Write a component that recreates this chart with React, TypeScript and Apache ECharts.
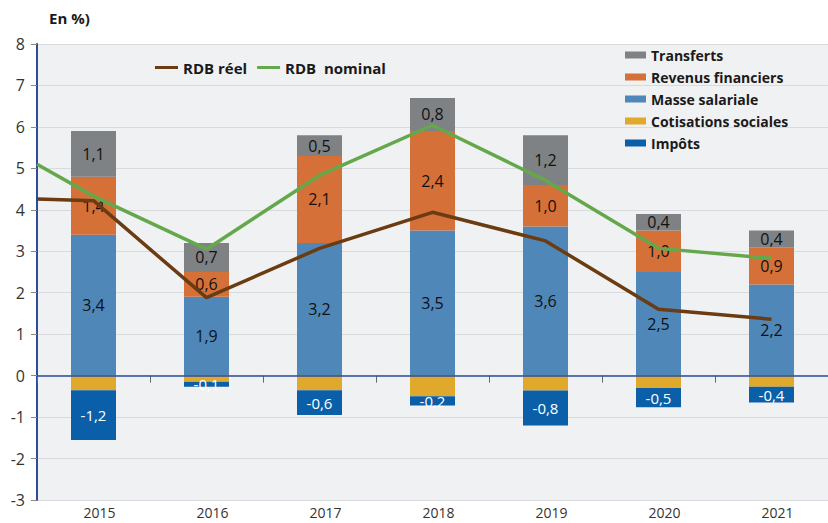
import React, { useEffect, useRef } from "react";
import * as echarts from "echarts";

const categories = ["2015", "2016", "2017", "2018", "2019", "2020", "2021"];
const masseSalariale = [3.4, 1.9, 3.2, 3.5, 3.6, 2.5, 2.2];
const revenusFinanciers = [1.4, 0.6, 2.1, 2.4, 1.0, 1.0, 0.9];
const transferts = [1.1, 0.7, 0.5, 0.8, 1.2, 0.4, 0.4];
const cotisations = [-0.35, -0.15, -0.35, -0.5, -0.36, -0.3, -0.27];
const impots = [-1.2, -0.12, -0.6, -0.22, -0.84, -0.46, -0.38];
// values at the left edge of the chart (line continues from 2014)
const rdbReelEdge = 4.26;
const rdbNominalEdge = 5.1;
const rdbReel = [4.22, 1.88, 3.07, 3.94, 3.25, 1.6, 1.36];
const rdbNominal = [4.33, 3.05, 4.83, 6.04, 4.71, 3.07, 2.83];
const yTicks = { min: -3, max: 8, interval: 1 };

const FONT = "'Open Sans', 'Noto Sans', sans-serif";

const fmt = (v: number) => v.toFixed(1).replace(".", ",");

export default function App() {
  const ref = useRef<HTMLDivElement>(null);
  useEffect(() => {
    if (!ref.current) return;
    const chart = echarts.init(ref.current, undefined, { renderer: "svg" });
    const lineData = (edge: number, vals: number[]) => [
      [-0.5, edge],
      ...vals.map((v, i) => [i, v]),
    ];
    const barLabel = (color: string, size: number) => ({
      show: true,
      position: "inside",
      color,
      fontSize: size,
      fontFamily: FONT,
      formatter: (p: any) => fmt(p.value),
    });
    const option: any = {
      animation: false,
      backgroundColor: "#ffffff",
      textStyle: { fontFamily: FONT },
      title: {
        text: "En %)",
        left: 44,
        top: 5,
        textStyle: { fontSize: 15, fontWeight: "bold", color: "#1a1a1a", fontFamily: FONT },
      },
      legend: [
        {
          data: ["RDB réel", "RDB  nominal"],
          left: 150,
          top: 55,
          icon: "rect",
          itemWidth: 23,
          itemHeight: 3,
          itemGap: 10,
          textStyle: { fontSize: 15, fontWeight: "bold", color: "#1a1a1a", fontFamily: FONT },
        },
        {
          data: ["Transferts", "Revenus financiers", "Masse salariale", "Cotisations sociales", "Impôts"],
          orient: "vertical",
          left: 620,
          top: 42,
          icon: "rect",
          itemWidth: 21,
          itemHeight: 7,
          itemGap: 6,
          textStyle: { fontSize: 14, fontWeight: "bold", color: "#1a1a1a", lineHeight: 16, fontFamily: FONT },
        },
      ],
      grid: {
        left: 37,
        right: -7,
        top: 44,
        bottom: 23,
        show: true,
        backgroundColor: "#f0f1f3",
        borderWidth: 0,
      },
      xAxis: [
        {
          type: "category",
          data: categories,
          axisLine: { show: false },
          axisTick: { show: true, length: 7, lineStyle: { color: "#666" } },
          axisLabel: { fontSize: 14, color: "#333", margin: 5, padding: [0, 0, 0, 12], fontFamily: FONT },
          splitLine: { show: false },
        },
        {
          type: "value",
          min: -0.5,
          max: categories.length - 0.5,
          show: false,
        },
      ],
      yAxis: {
        type: "value",
        min: yTicks.min,
        max: yTicks.max,
        interval: yTicks.interval,
        axisLine: { show: true, onZero: false, lineStyle: { color: "#2b4d9b", width: 2 } },
        axisTick: { show: true, length: 6, lineStyle: { color: "#888" } },
        axisLabel: { fontSize: 16, color: "#333", margin: 12, fontFamily: FONT },
        splitLine: { show: true, lineStyle: { color: "#d9dadd", width: 1 } },
      },
      series: [
        {
          name: "Masse salariale",
          type: "bar",
          stack: "a",
          barWidth: 45,
          data: masseSalariale,
          itemStyle: { color: "#4f87b9" },
          label: barLabel("#111", 16),
          markLine: {
            silent: true,
            symbol: "none",
            label: { show: false },
            lineStyle: { color: "#2b4d9b", width: 1.5, type: "solid" },
            data: [{ yAxis: 0 }],
          },
        },
        {
          name: "Revenus financiers",
          type: "bar",
          stack: "a",
          barWidth: 45,
          data: revenusFinanciers,
          itemStyle: { color: "#d57138" },
          label: barLabel("#111", 16),
        },
        {
          name: "Transferts",
          type: "bar",
          stack: "a",
          barWidth: 45,
          data: transferts,
          itemStyle: { color: "#7f8285" },
          label: barLabel("#111", 16),
        },
        {
          name: "Cotisations sociales",
          type: "bar",
          stack: "a",
          barWidth: 45,
          data: cotisations,
          itemStyle: { color: "#e1a92b" },
        },
        {
          name: "Impôts",
          type: "bar",
          stack: "a",
          barWidth: 45,
          data: impots,
          itemStyle: { color: "#0b5fa8" },
          label: barLabel("#ffffff", 15),
        },
        {
          name: "RDB réel",
          type: "line",
          xAxisIndex: 1,
          data: lineData(rdbReelEdge, rdbReel),
          symbol: "none",
          lineStyle: { color: "#6b3b12", width: 3.5 },
          itemStyle: { color: "#6b3b12" },
          z: 5,
        },
        {
          name: "RDB  nominal",
          type: "line",
          xAxisIndex: 1,
          data: lineData(rdbNominalEdge, rdbNominal),
          symbol: "none",
          lineStyle: { color: "#64a84b", width: 3.5 },
          itemStyle: { color: "#64a84b" },
          z: 5,
        },
      ],
    };
    chart.setOption(option);
    return () => chart.dispose();
  }, []);
  return (
    <div
      ref={ref}
      style={{ position: "fixed", left: 0, top: 0, width: 828, height: 523 }}
    />
  );
}
